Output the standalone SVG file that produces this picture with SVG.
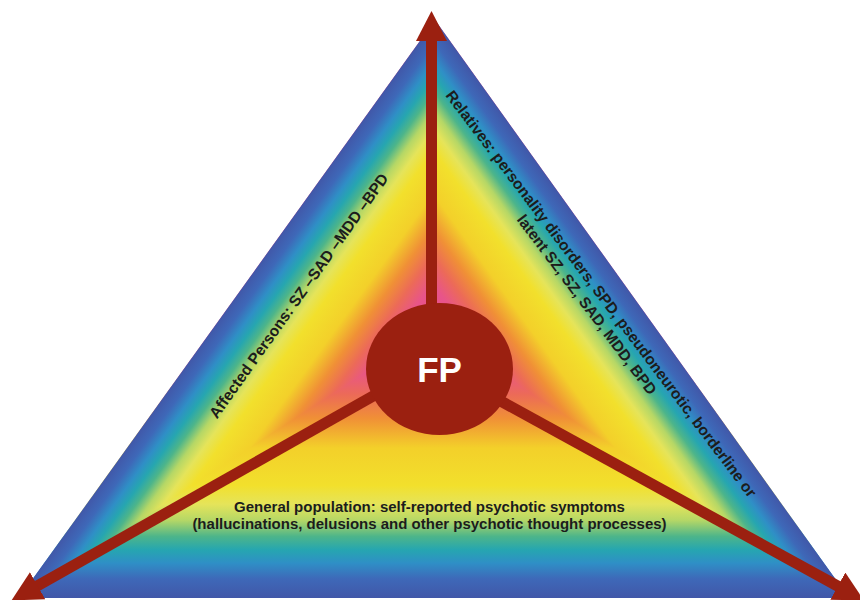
<svg xmlns="http://www.w3.org/2000/svg" width="860" height="600" viewBox="0 0 860 600">
<defs>
<style>
.lbl{font-family:"Liberation Sans",Arial,sans-serif;font-weight:bold;fill:#1c1c1c;}
.side{font-size:15.5px;}
.bot{font-size:15px;}
.fp{font-family:"Liberation Sans",Arial,sans-serif;font-weight:bold;font-size:35px;fill:#ffffff;}
.conn{stroke:#9b2010;stroke-width:11;fill:none;marker-end:url(#ah);}
</style>
<linearGradient id="gBot" gradientUnits="userSpaceOnUse" x1="432" y1="598" x2="432" y2="330">
<stop offset="0" stop-color="#4157a8"/><stop offset="0.07" stop-color="#3e68b8"/><stop offset="0.13" stop-color="#2f8fc6"/><stop offset="0.18" stop-color="#26a6b0"/><stop offset="0.23" stop-color="#4db58a"/><stop offset="0.29" stop-color="#b5d766"/><stop offset="0.35" stop-color="#e5e45a"/><stop offset="0.42" stop-color="#f2e02c"/><stop offset="0.56" stop-color="#f3d02a"/><stop offset="0.67" stop-color="#f09036"/><stop offset="0.76" stop-color="#ec6a58"/><stop offset="0.85" stop-color="#e8548a"/><stop offset="1" stop-color="#e84c8e"/>
</linearGradient>
<linearGradient id="gLeft" href="#gBot" x1="286.8" y1="225.3" x2="432" y2="330"/>
<linearGradient id="gRight" href="#gBot" x1="580.6" y1="223.3" x2="432" y2="330"/>
<marker id="ah" markerUnits="userSpaceOnUse" markerWidth="30" markerHeight="31" viewBox="0 0 30 31" refX="1" refY="15.5" orient="auto">
<path d="M0,0 L30,15.5 L0,31 Z" fill="#9b2010"/>
</marker>
</defs>
<rect width="860" height="600" fill="#ffffff"/>
<g id="triangle">
<polygon points="435,20 19,598 849,598" fill="url(#gBot)"/>
<polygon points="435,20 19,598 432,330" fill="url(#gLeft)"/>
<polygon points="435,20 849,598 432,330" fill="url(#gRight)"/>
</g>
<g id="connectors">
<line class="conn" x1="431.5" y1="363" x2="431.5" y2="40"/>
<line class="conn" x1="431.5" y1="363" x2="36.7" y2="586.2"/>
<line class="conn" x1="431.5" y1="363" x2="838.7" y2="586.6"/>
</g>
<g id="fp-node">
<ellipse cx="439.5" cy="369" rx="73.5" ry="66" fill="#9b2010"/>
<text class="fp" x="439.5" y="382" text-anchor="middle">FP</text>
</g>
<g id="affected-persons" transform="translate(299,296) rotate(-54.5)">
<text class="lbl side" x="0" y="5" text-anchor="middle">Affected Persons: SZ –SAD –MDD –BPD</text>
</g>
<g id="relatives" transform="translate(593,300) rotate(53)">
<text class="lbl side" x="0" y="-5" text-anchor="middle">Relatives: personality disorders, SPD, pseudoneurotic, borderline or</text>
<text class="lbl side" x="0" y="13" text-anchor="middle">latent SZ, SZ, SAD, MDD, BPD</text>
</g>
<g id="general-population">
<text class="lbl bot" x="429.5" y="512" text-anchor="middle">General population: self-reported psychotic symptoms</text>
<text class="lbl bot" x="429.5" y="529" text-anchor="middle">(hallucinations, delusions and other psychotic thought processes)</text>
</g>
</svg>
